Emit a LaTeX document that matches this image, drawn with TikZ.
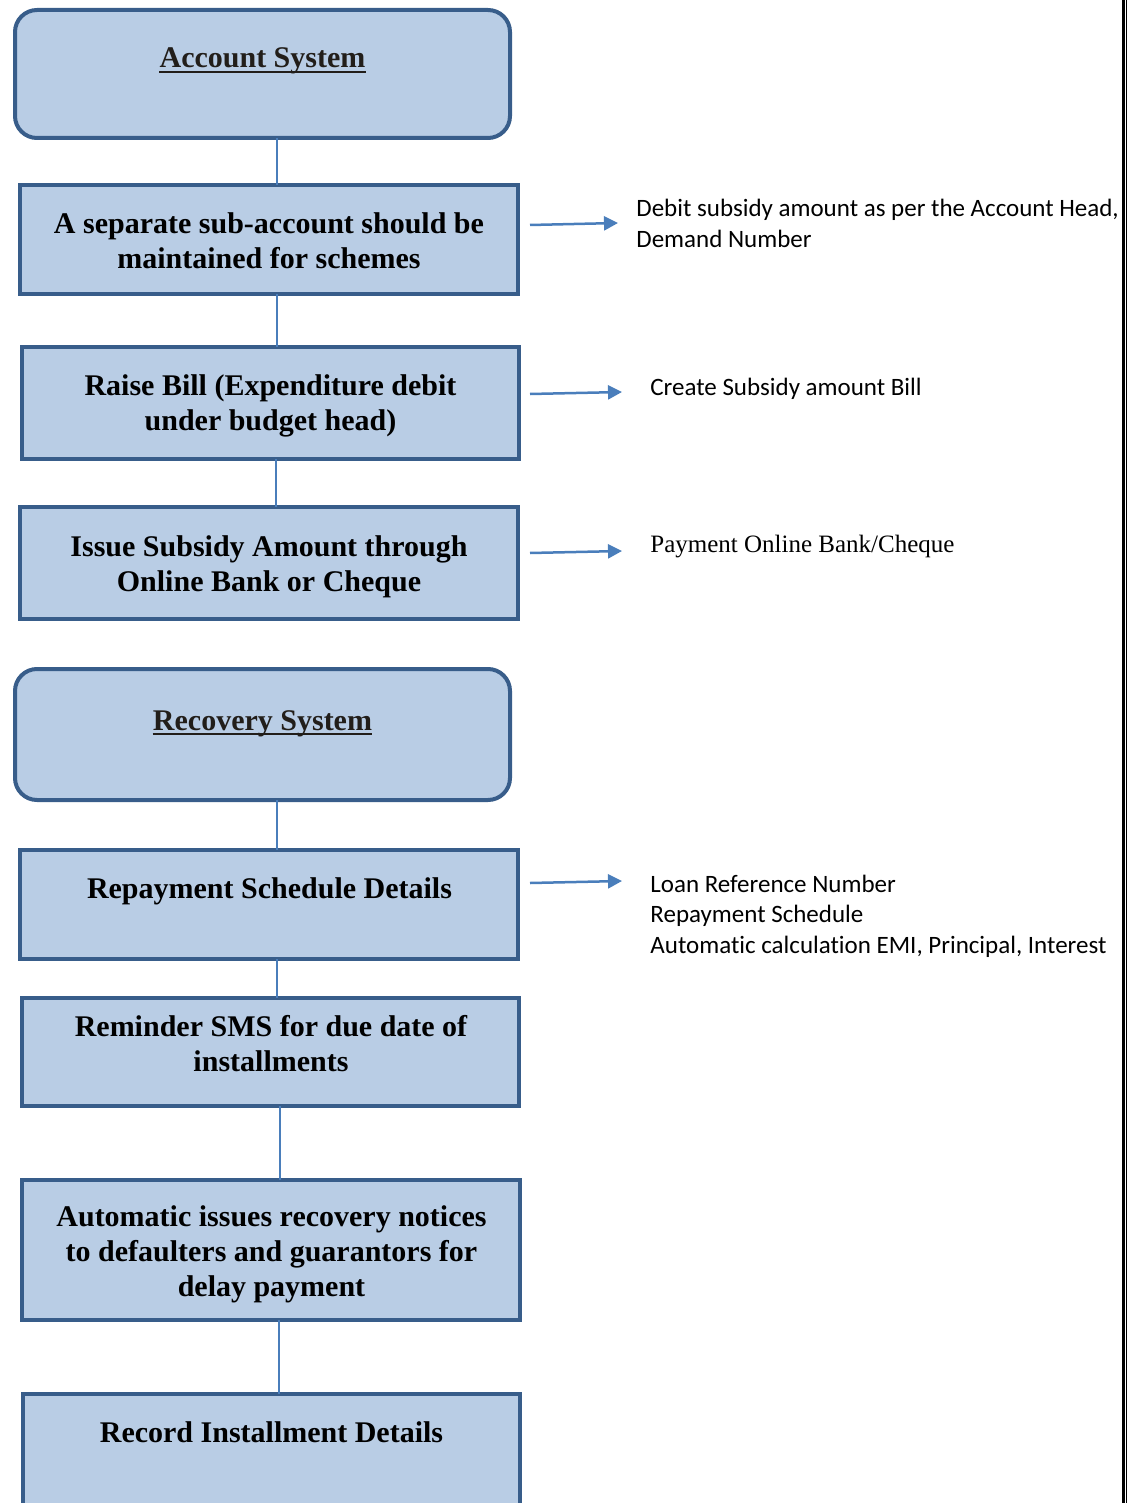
\documentclass[tikz,border=0pt]{standalone}
\usepackage{fontspec}
\setmainfont{Liberation Serif}
\newfontfamily\calib[Ligatures=NoCommon]{Carlito}
\usetikzlibrary{arrows.meta,calc}
\definecolor{boxfill}{HTML}{B9CDE5}
\definecolor{boxline}{HTML}{385D8A}
\definecolor{conn}{HTML}{4A7EBB}
\definecolor{titlec}{RGB}{34,30,26}
\begin{document}
\begin{tikzpicture}[x=0.5pt,y=-0.5pt,
  box/.style={draw=boxline,fill=boxfill,line width=2pt,inner sep=0pt,outer sep=0pt},
  rbox/.style={box,rounded corners=11pt},
  btext/.style={font=\bfseries\fontsize{15}{17.5}\selectfont,align=center,inner sep=0pt},
  ttext/.style={font=\bfseries\fontsize{15}{17.5}\selectfont,text=titlec,inner sep=0pt,anchor=base},
  rtext/.style={font=\calib\fontsize{12.5}{15.25}\selectfont,align=left,inner sep=0pt},
  link/.style={draw=conn,line width=1pt},
  arr/.style={draw=conn,line width=1.25pt,-{Triangle[length=7pt,width=7pt]}}]
\useasboundingbox (0,0) rectangle (1136,1503);

% boxes
\node[rbox,minimum width=247.5pt,minimum height=64pt] (b1) at (262.5,74) {};
\node[box,minimum width=249pt,minimum height=54.5pt] (b2) at (269,239.5) {};
\node[box,minimum width=248.5pt,minimum height=56pt] (b3) at (270.5,403) {};
\node[box,minimum width=249pt,minimum height=56pt] (b4) at (269,563) {};
\node[rbox,minimum width=247.5pt,minimum height=65.5pt] (b5) at (262.5,734.5) {};
\node[box,minimum width=249pt,minimum height=54.5pt] (b6) at (269,904.5) {};
\node[box,minimum width=248.5pt,minimum height=54pt] (b7) at (270.5,1052) {};
\node[box,minimum width=249pt,minimum height=70pt] (b8) at (271,1250) {};
\node[box,minimum width=248.5pt,minimum height=58pt] (b9) at (271.5,1452) {};

% links
\draw[link] ([xshift=7.25pt]b1.south) -- ([xshift=4pt]b2.north);
\draw[link] ([xshift=4pt]b2.south) -- ([xshift=3.25pt]b3.north);
\draw[link] ([xshift=2.75pt]b3.south) -- ([xshift=3.5pt]b4.north);
\draw[link] ([xshift=7.25pt]b5.south) -- ([xshift=4pt]b6.north);
\draw[link] ([xshift=4pt]b6.south) -- ([xshift=3.25pt]b7.north);
\draw[link] ([xshift=4.75pt]b7.south) -- ([xshift=4.5pt]b8.north);
\draw[link] ([xshift=4pt]b8.south) -- ([xshift=3.75pt]b9.north);

% box texts
\node[ttext] (t1) at (262.5,68) {Account System};
\draw[titlec,line width=1.35pt] ([yshift=-2pt]t1.base west) -- ([yshift=-2pt]t1.base east);
\node[btext] (t2) at (269,240.5) {A separate sub-account should be\\maintained for schemes};
\node[btext] (t3) at (270.5,406.3) {Raise Bill (Expenditure debit\\under budget head)};
\node[btext] (t4) at (269,567) {Issue Subsidy Amount through\\Online Bank or Cheque};
\node[ttext] (t5) at (262.5,730) {Recovery System};
\draw[titlec,line width=1.35pt] ([yshift=-2pt]t5.base west) -- ([yshift=-2pt]t5.base east);
\node[ttext,text=black] (t6) at (269.5,898) {Repayment Schedule Details};
\node[btext] (t7) at (271,1043.8) {Reminder SMS for due date of\\installments};
\node[btext] (t8) at (271.5,1253.9) {Automatic issues recovery notices\\to defaulters and guarantors for\\delay payment};
\node[ttext,text=black] (t9) at (271.5,1442) {Record Installment Details};

% right labels
\node[rtext,anchor=west] (r1) at (636,223.2) {Debit subsidy amount as per the Account Head,\\Demand Number};
\node[rtext,anchor=base west] (r2) at (650,395) {Create Subsidy amount Bill};
\node[font=\fontsize{12.5}{15}\selectfont,inner sep=0pt,anchor=base west] (r3) at (650,552) {Payment Online Bank/Cheque};
\node[rtext,anchor=west] (r4) at (650,916.2) {Loan Reference Number\\Repayment Schedule\\Automatic calculation EMI, Principal, Interest};

% arrows
\coordinate (a1s) at (530,225); \coordinate (a1e) at (618,223);
\coordinate (a2s) at (530,394); \coordinate (a2e) at (622,392);
\coordinate (a3s) at (530,553); \coordinate (a3e) at (622,551);
\coordinate (a4s) at (530,883); \coordinate (a4e) at (622,881);
\draw[arr] (a1s) -- (a1e);
\draw[arr] (a2s) -- (a2e);
\draw[arr] (a3s) -- (a3e);
\draw[arr] (a4s) -- (a4e);

% right page border
\draw[black,line width=1.5pt] (1123.5,0) -- (1123.5,1503);
\draw[black,line width=0.5pt] (1126.5,0) -- (1126.5,1503);
\end{tikzpicture}
\end{document}
